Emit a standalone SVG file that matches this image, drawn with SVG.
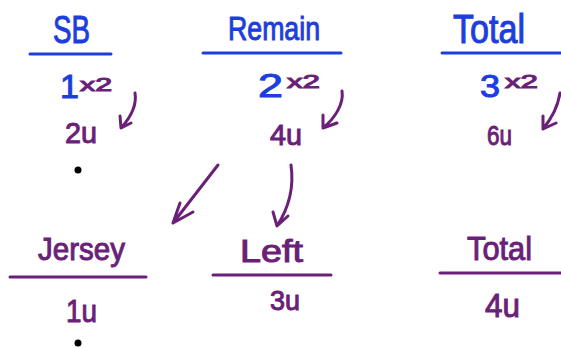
<svg xmlns="http://www.w3.org/2000/svg" width="561" height="348" viewBox="0 0 561 348">
<style>
.b{fill:#1c3ede;stroke:#1c3ede;stroke-width:1;font-family:"Liberation Sans",Arial,sans-serif}
.p{fill:#6a1f78;stroke:#6a1f78;stroke-width:1;font-family:"Liberation Sans",Arial,sans-serif}
.ub{stroke:#1c3ede;stroke-width:3;stroke-linecap:round}
.up{stroke:#6a1f78;stroke-width:3;stroke-linecap:round}
.c{fill:none;stroke:#6a1f78;stroke-width:3;stroke-linecap:round;stroke-linejoin:round}
.dot{fill:#000}
</style>
<rect width="561" height="348" fill="#fff"/>
<g id="sb-header">
<text class="b" x="53" y="43" font-size="38" textLength="37" lengthAdjust="spacingAndGlyphs">SB</text>
<line class="ub" x1="30" y1="54" x2="111" y2="54"/>
</g>
<g id="remain-header">
<text class="b" x="228" y="40" font-size="34" textLength="92" lengthAdjust="spacingAndGlyphs">Remain</text>
<line class="ub" x1="203" y1="53" x2="341" y2="53"/>
</g>
<g id="total-header">
<text class="b" x="453" y="43" font-size="40" textLength="72" lengthAdjust="spacingAndGlyphs">Total</text>
<line class="ub" x1="442" y1="53" x2="561" y2="53"/>
</g>
<g id="sb-ratio">
<text class="b" x="60" y="98" font-size="34">1</text>
<text class="p" x="80" y="91" font-size="18" textLength="32" lengthAdjust="spacingAndGlyphs">x2</text>
</g>
<g id="remain-ratio">
<text class="b" x="258" y="97" font-size="34" textLength="25" lengthAdjust="spacingAndGlyphs">2</text>
<text class="p" x="287" y="88" font-size="18" textLength="33" lengthAdjust="spacingAndGlyphs">x2</text>
</g>
<g id="total-ratio">
<text class="b" x="480" y="97" font-size="32" textLength="20" lengthAdjust="spacingAndGlyphs">3</text>
<text class="p" x="505" y="88" font-size="18" textLength="33" lengthAdjust="spacingAndGlyphs">x2</text>
</g>
<g id="sb-units">
<text class="p" x="65" y="143" font-size="30" textLength="32" lengthAdjust="spacingAndGlyphs">2u</text>
<circle class="dot" cx="78" cy="170" r="3.5"/>
</g>
<g id="remain-units">
<text class="p" x="270" y="145" font-size="30" textLength="32" lengthAdjust="spacingAndGlyphs">4u</text>
</g>
<g id="total-units">
<text class="p" x="487" y="145" font-size="28" textLength="25" lengthAdjust="spacingAndGlyphs">6u</text>
</g>
<g id="jersey">
<text class="p" x="38" y="260" font-size="32" textLength="87" lengthAdjust="spacingAndGlyphs">Jersey</text>
<line class="up" x1="10" y1="277" x2="146" y2="277"/>
<text class="p" x="66" y="322" font-size="32" textLength="31" lengthAdjust="spacingAndGlyphs">1u</text>
<circle class="dot" cx="78" cy="343" r="3.5"/>
</g>
<g id="left">
<text class="p" x="240" y="262" font-size="32" textLength="63" lengthAdjust="spacingAndGlyphs">Left</text>
<line class="up" x1="213" y1="275" x2="331" y2="275"/>
<text class="p" x="270" y="310" font-size="28" textLength="30" lengthAdjust="spacingAndGlyphs">3u</text>
</g>
<g id="total-bottom">
<text class="p" x="467" y="260" font-size="34" textLength="65" lengthAdjust="spacingAndGlyphs">Total</text>
<line class="up" x1="440" y1="273" x2="561" y2="273"/>
<text class="p" x="485" y="317" font-size="34" textLength="35" lengthAdjust="spacingAndGlyphs">4u</text>
</g>
<g id="connectors">
<path class="c" d="M135,93 C137,105 130,118 121,128 M120,116 L121,128 L131,123"/>
<path class="c" d="M342,91 C344,104 335,118 323,128 M323,115 L323,128 L337,123"/>
<path class="c" d="M560,93 C558,106 552,118 543,129 M543,116 L543,129 L556,123"/>
<path class="c" d="M218,165 L173,223 M180,203 L173,223 L193,212"/>
<path class="c" d="M291,165 C294,186 290,206 277,226 M273,212 L277,226 L288,216"/>
</g>
</svg>
